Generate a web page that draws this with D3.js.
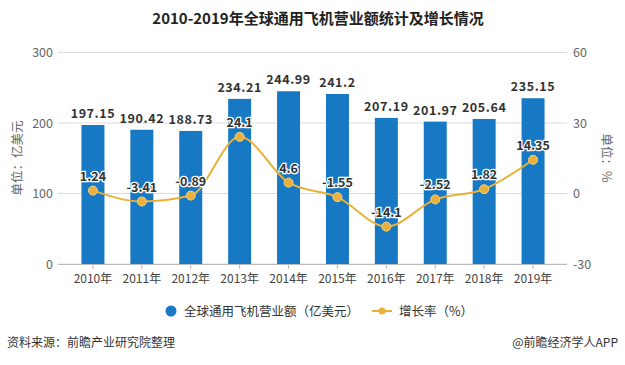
<!DOCTYPE html>
<html><head><meta charset="utf-8">
<script src="https://cdn.jsdelivr.net/npm/d3@7"></script>
<style>body{margin:0;background:#fff}svg{display:block;font-family:"Noto Sans CJK SC","Microsoft YaHei",sans-serif}</style>
</head><body><svg id="c" width="625" height="365"></svg>
<script>
const years = ["2010年","2011年","2012年","2013年","2014年","2015年","2016年","2017年","2018年","2019年"];
const revenue = [197.15,190.42,188.73,234.21,244.99,241.2,207.19,201.97,205.64,235.15];
const growth = [1.24,-3.41,-0.89,24.1,4.6,-1.55,-14.1,-2.52,1.82,14.35];
const leftTicks = [0,100,200,300];
const rightTicks = [-30,0,30,60];

const svg = d3.select("#c");
const x = d3.scaleBand().domain(years).range([68.5,557.5]).paddingInner(0.53).paddingOuter(0.265);
const xc = d => x(d) + x.bandwidth()/2;
const yL = d3.scaleLinear().domain([0,300]).range([264,52.5]);
const yR = d3.scaleLinear().domain([-30,60]).range([264,52.5]);

// grid
svg.append("g").selectAll("line").data(leftTicks).join("line")
  .attr("x1",58).attr("x2",567).attr("y1",d=>yL(d)).attr("y2",d=>yL(d))
  .attr("stroke","#dcdcdc").attr("stroke-width",1);
// axis labels
svg.append("g").selectAll("text").data(leftTicks).join("text")
  .attr("x",53).attr("y",d=>yL(d)+4.5).attr("text-anchor","end")
  .attr("font-size",12.5).attr("fill","#666").text(d=>d);
svg.append("g").selectAll("text").data(rightTicks).join("text")
  .attr("x",573).attr("y",d=>yR(d)+4.5).attr("text-anchor","start")
  .attr("font-size",12.5).attr("fill","#666").text(d=>d);
// axis titles
svg.append("text").attr("transform","translate(22,158) rotate(-90)").attr("text-anchor","middle")
  .attr("font-size",12.5).attr("fill","#666").text("单位：亿美元");
svg.append("text").attr("transform","translate(602,158) rotate(90)").attr("text-anchor","middle")
  .attr("font-size",12.5).attr("fill","#666").text("单位：%");
// x axis
svg.append("line").attr("x1",58).attr("x2",567).attr("y1",264.5).attr("y2",264.5).attr("stroke","#bbb");
svg.append("g").selectAll("line").data(years).join("line")
  .attr("x1",d=>xc(d)).attr("x2",d=>xc(d)).attr("y1",264.5).attr("y2",269).attr("stroke","#bbb");
svg.append("g").selectAll("text").data(years).join("text")
  .attr("x",d=>xc(d)).attr("y",283).attr("text-anchor","middle")
  .attr("font-size",12).attr("fill","#444").text(d=>d);

// bars
svg.append("g").selectAll("rect").data(revenue).join("rect")
  .attr("x",(d,i)=>x(years[i])).attr("width",x.bandwidth())
  .attr("y",d=>yL(d)).attr("height",d=>yL(0)-yL(d)).attr("fill","#1778c4");
svg.append("g").selectAll("text").data(revenue).join("text")
  .attr("x",(d,i)=>xc(years[i])).attr("y",d=>yL(d)-7).attr("text-anchor","middle")
  .attr("font-size",12.5).attr("font-weight","bold").attr("fill","#333").attr("letter-spacing","0.6")
  .text(d=>d);

// line
const line = d3.line().x((d,i)=>xc(years[i])).y(d=>yR(d)).curve(d3.curveMonotoneX);
svg.append("path").datum(growth).attr("d",line).attr("fill","none").attr("stroke","#e9b03a").attr("stroke-width",2);
svg.append("g").selectAll("circle").data(growth).join("circle")
  .attr("cx",(d,i)=>xc(years[i])).attr("cy",d=>yR(d)).attr("r",4.5)
  .attr("fill","#e9b03a").attr("stroke","#f5d58a").attr("stroke-width",1);
svg.append("g").selectAll("text").data(growth).join("text")
  .attr("x",(d,i)=>xc(years[i])).attr("y",d=>yR(d)-10).attr("text-anchor","middle")
  .attr("font-size",12.5).attr("font-weight","bold").attr("fill","#333")
  .attr("stroke","#fff").attr("stroke-width",2.5).attr("paint-order","stroke")
  .text(d=>d);

// title
svg.append("text").attr("x",318).attr("y",24).attr("text-anchor","middle")
  .attr("font-size",15).attr("font-weight","bold").attr("fill","#222")
  .text("2010-2019年全球通用飞机营业额统计及增长情况");

// legend
svg.append("circle").attr("cx",171).attr("cy",311).attr("r",5.5).attr("fill","#1778c4");
svg.append("text").attr("x",184).attr("y",315.5).attr("font-size",12.5).attr("fill","#333").text("全球通用飞机营业额（亿美元）");
svg.append("line").attr("x1",372).attr("x2",392).attr("y1",311).attr("y2",311).attr("stroke","#e9b03a").attr("stroke-width",2);
svg.append("circle").attr("cx",382).attr("cy",311).attr("r",3.5).attr("fill","#e9b03a");
svg.append("text").attr("x",399).attr("y",315.5).attr("font-size",12.5).attr("fill","#333").text("增长率（%）");

// footer
svg.append("text").attr("x",7).attr("y",347).attr("font-size",12).attr("fill","#333").text("资料来源：前瞻产业研究院整理");
svg.append("text").attr("x",618).attr("y",347).attr("text-anchor","end").attr("font-size",12).attr("fill","#333").text("@前瞻经济学人APP");
</script></body></html>
